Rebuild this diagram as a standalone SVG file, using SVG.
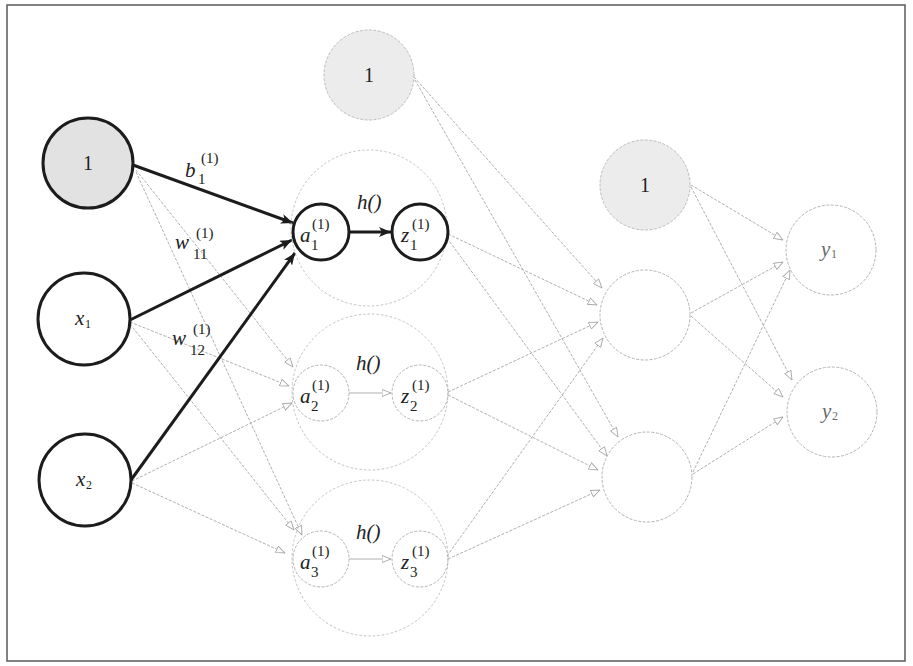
<svg xmlns="http://www.w3.org/2000/svg" width="913" height="666" viewBox="0 0 913 666">
<style>
.boldn{fill:#fff;stroke:#1c1c1c;stroke-width:3}
.biasb{fill:#e2e2e2;stroke:#1c1c1c;stroke-width:3}
.lightn{fill:none;stroke:#b4b4b4;stroke-width:1;stroke-dasharray:3 1.5}
.biasl{fill:#ececec;stroke:#bcbcbc;stroke-width:1;stroke-dasharray:3 1.5}
.big{fill:none;stroke:#c2c2c2;stroke-width:1;stroke-dasharray:2.5 2}
.lc{fill:none;stroke:#b0b0b0;stroke-width:1;stroke-dasharray:3 1.5;marker-end:url(#open)}
.ls{fill:none;stroke:#b0b0b0;stroke-width:1;marker-end:url(#open)}
.bc{fill:none;stroke:#1c1c1c;stroke-width:3;marker-end:url(#solid)}
text{font-family:Liberation Serif, DejaVu Serif, serif;fill:#222}
.v{font-style:italic;font-size:21px}
.s{font-size:15px}
.g{fill:#6a6a6a}
</style>
<defs>
<marker id="solid" viewBox="0 0 12 10" refX="12" refY="5" markerWidth="12" markerHeight="10" markerUnits="userSpaceOnUse" orient="auto">
<path d="M0,0 L12,5 L0,10 L3,5 Z" fill="#1c1c1c"/>
</marker>
<marker id="open" viewBox="0 0 10 8" refX="9.5" refY="4" markerWidth="10" markerHeight="8" markerUnits="userSpaceOnUse" orient="auto">
<path d="M0.5,0.5 L9.5,4 L0.5,7.5 Z" fill="#fff" stroke="#a8a8a8" stroke-width="0.9"/>
</marker>
</defs>
<rect x="7" y="5" width="898" height="656" fill="#fff" stroke="#5a5a5a" stroke-width="1.5"/>

<g id="connectors">
<line class="lc" x1="136" y1="170" x2="293" y2="367"/>
<line class="lc" x1="136" y1="172" x2="302" y2="535"/>
<line class="lc" x1="130" y1="322" x2="289" y2="386"/>
<line class="lc" x1="130" y1="324" x2="294" y2="530"/>
<line class="lc" x1="132" y1="481" x2="292" y2="403"/>
<line class="lc" x1="132" y1="483" x2="285" y2="553"/>
<line class="ls" x1="349" y1="393" x2="391" y2="393"/>
<line class="ls" x1="349" y1="559" x2="391" y2="559"/>
<line class="lc" x1="414" y1="77" x2="602" y2="288"/>
<line class="lc" x1="415" y1="80" x2="618" y2="437"/>
<line class="lc" x1="448" y1="234" x2="597" y2="305"/>
<line class="lc" x1="447" y1="238" x2="607" y2="456"/>
<line class="lc" x1="448" y1="392" x2="598" y2="322"/>
<line class="lc" x1="448" y1="395" x2="598" y2="470"/>
<line class="lc" x1="447" y1="556" x2="603" y2="338"/>
<line class="lc" x1="448" y1="559" x2="600" y2="490"/>
<line class="lc" x1="691" y1="185" x2="783" y2="240"/>
<line class="lc" x1="691" y1="187" x2="792" y2="380"/>
<line class="lc" x1="691" y1="313" x2="783" y2="262"/>
<line class="lc" x1="691" y1="316" x2="783" y2="397"/>
<line class="lc" x1="693" y1="472" x2="790" y2="270"/>
<line class="lc" x1="693" y1="474" x2="783" y2="417"/>
<line class="bc" x1="133" y1="165" x2="293" y2="223"/>
<line class="bc" x1="130" y1="320" x2="292" y2="240"/>
<line class="bc" x1="131" y1="480" x2="295" y2="253"/>
<line class="bc" x1="349" y1="232" x2="391" y2="232"/>
</g>

<g id="labels">
<text class="v" x="185" y="177">b</text><text class="s" x="201" y="163">(1)</text><text class="s" x="198" y="184">1</text>
<text class="v" x="175" y="249">w</text><text class="s" x="196" y="238">(1)</text><text class="s" x="193" y="259">11</text>
<text class="v" x="172" y="345">w</text><text class="s" x="193" y="334">(1)</text><text class="s" x="190" y="355">12</text>
</g>

<g id="bias0"><circle class="biasb" cx="88" cy="163" r="45"/><text x="88" y="170" font-size="20" text-anchor="middle">1</text></g>
<g id="x1"><circle class="boldn" cx="84" cy="319" r="46"/><text class="v" x="75" y="325" font-size="20">x</text><text x="85" y="328" font-size="12">1</text></g>
<g id="x2"><circle class="boldn" cx="85" cy="480" r="46"/><text class="v" x="76" y="486" font-size="20">x</text><text x="86" y="489" font-size="12">2</text></g>

<g id="bias1"><circle class="biasl" cx="369" cy="75" r="45"/><text x="369" y="82" font-size="20" text-anchor="middle">1</text></g>

<g id="h1">
<circle class="big" cx="369" cy="228" r="78"/>
<text class="v" x="357" y="209">h()</text>
<circle class="boldn" cx="321" cy="232" r="28"/>
<text class="v" x="300" y="242">a</text><text class="s" x="312" y="229">(1)</text><text class="s" x="311" y="250">1</text>
<circle class="boldn" cx="420" cy="232" r="28"/>
<text class="v" x="401" y="242">z</text><text class="s" x="412" y="229">(1)</text><text class="s" x="410" y="250">1</text>
</g>
<g id="h2">
<circle class="big" cx="370" cy="392" r="78"/>
<text class="v" x="356" y="370">h()</text>
<circle class="lightn" cx="321" cy="393" r="28"/>
<text class="v" x="300" y="403">a</text><text class="s" x="312" y="390">(1)</text><text class="s" x="311" y="411">2</text>
<circle class="lightn" cx="420" cy="393" r="28"/>
<text class="v" x="401" y="403">z</text><text class="s" x="412" y="390">(1)</text><text class="s" x="410" y="411">2</text>
</g>
<g id="h3">
<circle class="big" cx="370" cy="558" r="78"/>
<text class="v" x="356" y="539">h()</text>
<circle class="lightn" cx="321" cy="559" r="28"/>
<text class="v" x="300" y="569">a</text><text class="s" x="312" y="556">(1)</text><text class="s" x="311" y="577">3</text>
<circle class="lightn" cx="420" cy="559" r="28"/>
<text class="v" x="401" y="569">z</text><text class="s" x="412" y="556">(1)</text><text class="s" x="410" y="577">3</text>
</g>

<g id="bias2"><circle class="biasl" cx="645" cy="185" r="45"/><text x="645" y="192" font-size="20" text-anchor="middle">1</text></g>
<g id="n21"><circle class="lightn" cx="645" cy="315" r="45"/></g>
<g id="n22"><circle class="lightn" cx="647" cy="477" r="45"/></g>
<g id="y1"><circle class="lightn" cx="831" cy="250" r="45"/><text class="v g" x="821" y="256" font-size="20">y</text><text class="g" x="831" y="258" font-size="12">1</text></g>
<g id="y2"><circle class="lightn" cx="832" cy="412" r="45"/><text class="v g" x="822" y="418" font-size="20">y</text><text class="g" x="832" y="420" font-size="12">2</text></g>
</svg>
